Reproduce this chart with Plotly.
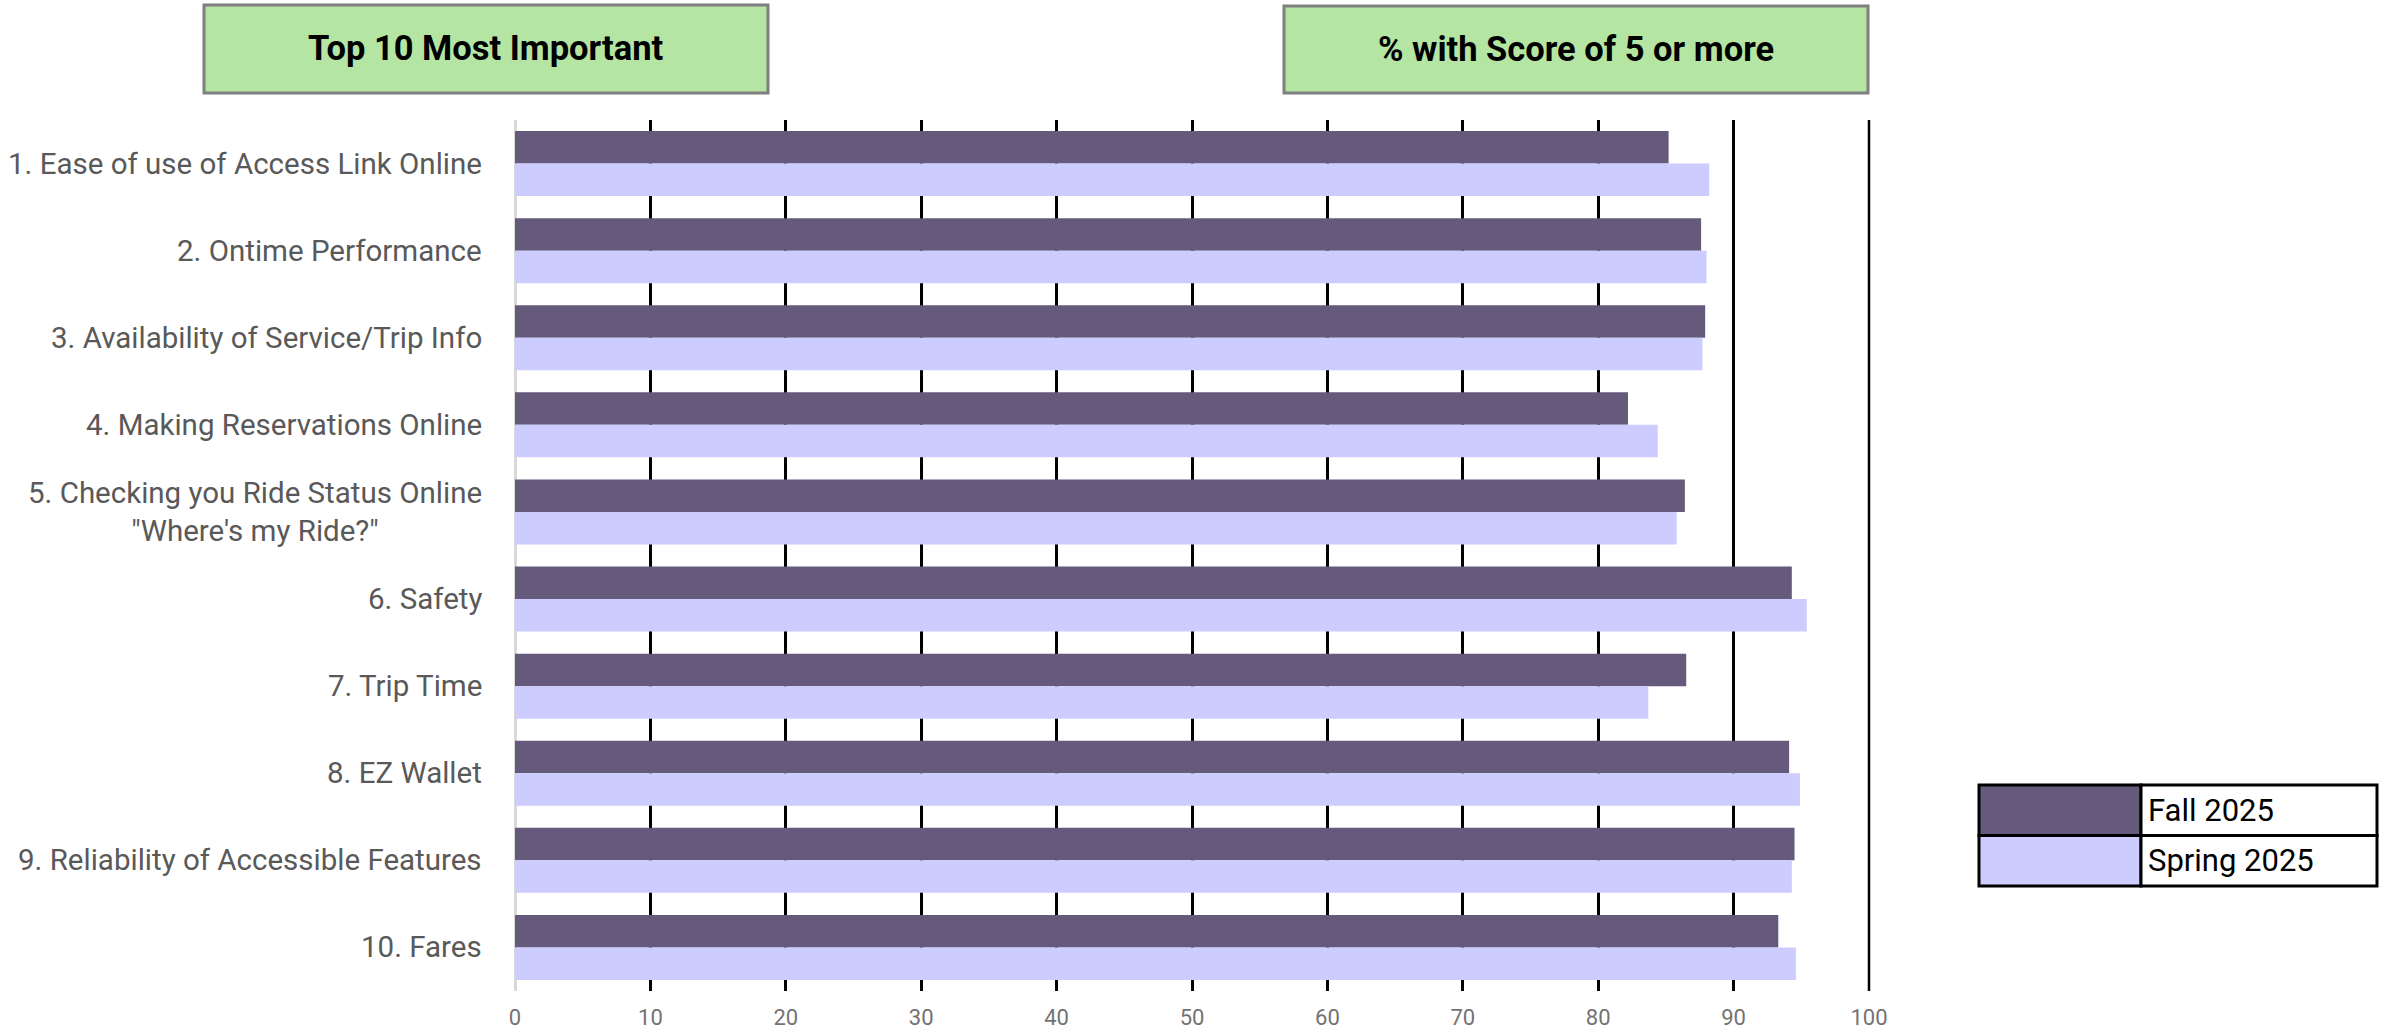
import plotly.graph_objects as go

# Survey items, ranked by importance
categories = [
    "1. Ease of use of Access Link Online",
    "2. Ontime Performance",
    "3. Availability of Service/Trip Info",
    "4. Making Reservations Online",
    "5. Checking you Ride Status Online<br>\"Where's my Ride?\"",
    "6. Safety",
    "7. Trip Time",
    "8. EZ Wallet",
    "9. Reliability of Accessible Features",
    "10. Fares",
]

# Percent of respondents scoring 5 or more
fall_2025 = [85.2, 87.6, 87.9, 82.2, 86.4, 94.3, 86.5, 94.1, 94.5, 93.3]
spring_2025 = [88.2, 88.0, 87.7, 84.4, 85.8, 95.4, 83.7, 94.9, 94.3, 94.6]

series_names = ["Fall 2025", "Spring 2025"]
series_colors = ["#655A7C", "#CCCCFF"]

x_ticks = [0, 10, 20, 30, 40, 50, 60, 70, 80, 90, 100]
X_RANGE = [0, 100]

header_left = "Top 10 Most Important"
header_right = "% with Score of 5 or more"

W, H = 2381, 1035
PLOT_L, PLOT_R, PLOT_T, PLOT_B = 515, 1869, 120, 991


def px_x(p):
    return (p - PLOT_L) / (PLOT_R - PLOT_L)


def px_y(p):
    return (PLOT_B - p) / (PLOT_B - PLOT_T)


FONT = "Roboto"

fig = go.Figure()
for name, vals, col in zip(series_names, [fall_2025, spring_2025], series_colors):
    fig.add_trace(go.Bar(
        y=categories, x=vals, name=name, orientation="h",
        marker=dict(color=col, line=dict(width=0)),
        showlegend=False,
    ))

shapes = []
annotations = []

# Grid line at the right end of the axis (plotly skips the edge one);
# paper-referenced so it is not clipped by the plot area
end_frac = (x_ticks[-1] - X_RANGE[0]) / (X_RANGE[1] - X_RANGE[0])
shapes.append(dict(
    type="line", xref="paper", yref="paper", x0=end_frac, x1=end_frac, y0=0, y1=1,
    line=dict(color="#000000", width=2.5), layer="below",
))

# Category labels drawn as annotations so the two-line label can be centred
for cat in categories:
    annotations.append(dict(
        xref="paper", yref="y", x=0, y=cat, xanchor="right", yanchor="middle",
        xshift=-31, text=cat, showarrow=False,
        align="center" if "<br>" in cat else "right",
        font=dict(family=FONT, size=29.5, color="#595959"),
    ))

# Green header boxes above the chart
for (x0, x1, y0, y1, txt) in [(204, 768, 5, 93, header_left),
                              (1284, 1868, 6, 93, header_right)]:
    shapes.append(dict(
        type="rect", xref="paper", yref="paper",
        x0=px_x(x0), x1=px_x(x1), y0=px_y(y1), y1=px_y(y0),
        fillcolor="#B4E5A2", line=dict(color="#7F7F7F", width=3), layer="above",
    ))
    annotations.append(dict(
        xref="paper", yref="paper", x=px_x((x0 + x1) / 2), y=px_y((y0 + y1) / 2 - 1),
        xanchor="center", yanchor="middle", text=f"<b>{txt}</b>", showarrow=False,
        font=dict(family=FONT, size=34.5, color="#000000"),
    ))

# Legend drawn as a small two-row table
LG_L, LG_M, LG_R = 1979, 2141, 2377
LG_T, LG_ROW = 785, 50.5
for i, (name, col) in enumerate(zip(series_names, series_colors)):
    top = LG_T + i * LG_ROW
    bot = top + LG_ROW
    shapes.append(dict(
        type="rect", xref="paper", yref="paper",
        x0=px_x(LG_L), x1=px_x(LG_M), y0=px_y(bot), y1=px_y(top),
        fillcolor=col, line=dict(color="#000000", width=3), layer="above",
    ))
    shapes.append(dict(
        type="rect", xref="paper", yref="paper",
        x0=px_x(LG_M), x1=px_x(LG_R), y0=px_y(bot), y1=px_y(top),
        fillcolor="#FFFFFF", line=dict(color="#000000", width=3), layer="above",
    ))
    annotations.append(dict(
        xref="paper", yref="paper", x=px_x(LG_M + 5), y=px_y((top + bot) / 2),
        xanchor="left", yanchor="middle", text=name, showarrow=False,
        font=dict(family=FONT, size=31, color="#000000"),
    ))

fig.update_layout(
    width=W, height=H,
    margin=dict(l=PLOT_L, r=W - PLOT_R, t=PLOT_T, b=H - PLOT_B, pad=0,
                autoexpand=False),
    paper_bgcolor="#FFFFFF", plot_bgcolor="#FFFFFF",
    barmode="group", bargap=0.254, bargroupgap=0,
    shapes=shapes, annotations=annotations,
    showlegend=False,
    xaxis=dict(
        range=X_RANGE, tickvals=x_ticks, ticktext=[str(t) for t in x_ticks],
        showgrid=True, gridcolor="#000000", gridwidth=2.5,
        zeroline=True, zerolinecolor="#D9D9D9", zerolinewidth=2.5,
        showline=False, ticks="", ticklabelstandoff=11, automargin=False,
        tickfont=dict(family=FONT, size=22, color="#737373"),
        fixedrange=True,
    ),
    yaxis=dict(
        autorange="reversed", showticklabels=False, showgrid=False,
        zeroline=False, showline=False, ticks="", fixedrange=True,
        automargin=False,
    ),
)

fig.write_html("out.html")
